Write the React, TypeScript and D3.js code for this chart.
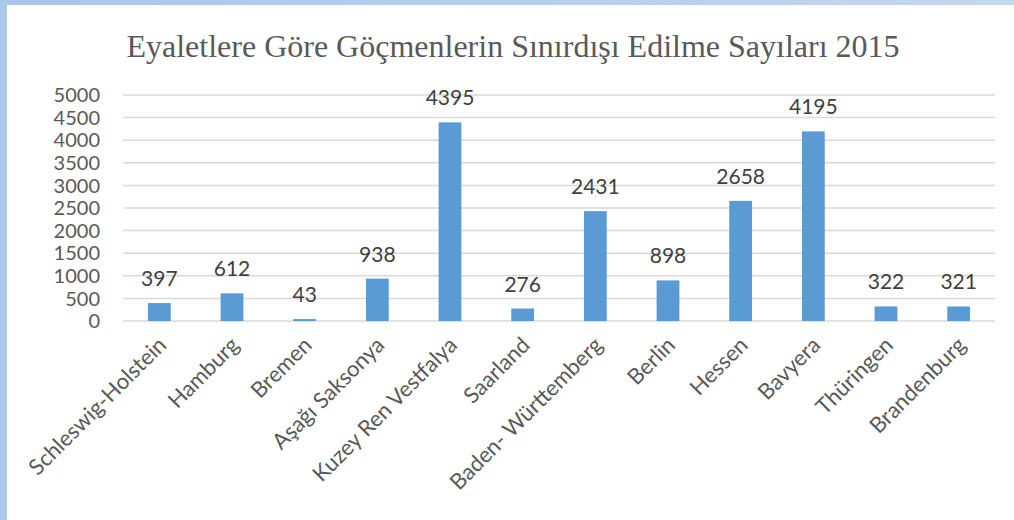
import React, { useEffect, useRef } from 'react';
import * as d3 from 'd3';

const states = [
  'Schleswig-Holstein', 'Hamburg', 'Bremen', 'Aşağı Saksonya', 'Kuzey Ren Vestfalya', 'Saarland',
  'Baden- Württemberg', 'Berlin', 'Hessen', 'Bavyera', 'Thüringen', 'Brandenburg',
];
const deportations = [397, 612, 43, 938, 4395, 276, 2431, 898, 2658, 4195, 322, 321];
const yTicks = [0, 500, 1000, 1500, 2000, 2500, 3000, 3500, 4000, 4500, 5000];
const title = 'Eyaletlere Göre Göçmenlerin Sınırdışı Edilme Sayıları 2015';

export default function App() {
  const svgRef = useRef<SVGSVGElement>(null);

  useEffect(() => {
    if (!svgRef.current) return;
    const svg = d3.select(svgRef.current);
    svg.selectAll('*').remove();

    const width = 1014;
    const height = 520;
    const margin = { top: 95, right: 19, bottom: 199, left: 123 };
    const font = 'Lato, "Open Sans", sans-serif';

    // frame (light blue slide edge)
    const defs = svg.append('defs');
    const grad = defs.append('linearGradient').attr('id', 'edge').attr('x1', 0).attr('x2', 1);
    grad.append('stop').attr('offset', 0).attr('stop-color', '#a9c6ea');
    grad.append('stop').attr('offset', 1).attr('stop-color', '#c2d7f0');
    svg.append('rect').attr('width', width).attr('height', height).attr('fill', '#ffffff');
    svg.append('rect').attr('width', width).attr('height', 5).attr('fill', 'url(#edge)');
    svg.append('rect').attr('width', 7).attr('height', height).attr('fill', '#abc7ea');

    const x = d3.scaleBand()
      .domain(states)
      .range([margin.left, width - margin.right])
      .paddingInner(0.686)
      .paddingOuter(0.343);

    const y = d3.scaleLinear()
      .domain([0, 5000])
      .range([height - margin.bottom, margin.top]);

    // Title
    svg.append('text')
      .attr('x', 513)
      .attr('y', 57)
      .attr('text-anchor', 'middle')
      .attr('font-family', '"Liberation Serif", "Times New Roman", serif')
      .attr('font-size', 32)
      .attr('fill', '#595959')
      .text(title);

    // Gridlines
    svg.append('g')
      .selectAll('line')
      .data(yTicks)
      .join('line')
      .attr('x1', margin.left)
      .attr('x2', width - margin.right)
      .attr('y1', d => y(d))
      .attr('y2', d => y(d))
      .attr('stroke', '#d9d9d9')
      .attr('stroke-width', 1.5);

    // Y tick labels
    svg.append('g')
      .selectAll('text')
      .data(yTicks)
      .join('text')
      .attr('x', 100)
      .attr('y', d => y(d))
      .attr('dy', '0.36em')
      .attr('text-anchor', 'end')
      .attr('font-family', font)
      .attr('font-size', 20)
      .attr('fill', '#595959')
      .text(d => d);

    // Bars
    svg.append('g')
      .selectAll('rect')
      .data(deportations)
      .join('rect')
      .attr('x', (d, i) => x(states[i])!)
      .attr('y', d => y(d))
      .attr('width', x.bandwidth())
      .attr('height', d => y(0) - y(d))
      .attr('fill', '#5b9bd5');

    // Value labels
    svg.append('g')
      .selectAll('text')
      .data(deportations)
      .join('text')
      .attr('x', (d, i) => x(states[i])! + x.bandwidth() / 2)
      .attr('y', d => y(d) - 17)
      .attr('text-anchor', 'middle')
      .attr('font-family', font)
      .attr('font-size', 21)
      .attr('fill', '#404040')
      .text(d => d);

    // Category labels
    svg.append('g')
      .selectAll('text')
      .data(states)
      .join('text')
      .attr('transform', d => `translate(${x(d)! + x.bandwidth() / 2 + 3},${y(0) + 20}) rotate(-45)`)
      .attr('text-anchor', 'end')
      .attr('dy', '0.35em')
      .attr('font-family', font)
      .attr('font-size', 22)
      .attr('fill', '#595959')
      .text(d => d);
  }, []);

  return (
    <svg
      ref={svgRef}
      width={1014}
      height={520}
      viewBox="0 0 1014 520"
      style={{ position: 'absolute', left: 0, top: 0, display: 'block' }}
    />
  );
}
